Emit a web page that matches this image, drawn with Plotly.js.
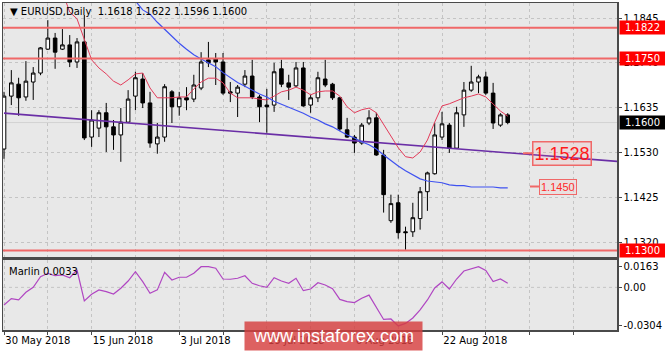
<!DOCTYPE html>
<html><head><meta charset="utf-8">
<script src="https://cdn.plot.ly/plotly-3.0.1.min.js"></script>
<style>html,body{margin:0;padding:0;background:#fff}#chart{width:665px;height:352px}</style>
</head><body><div id="chart"></div>
<script>
const dates = ['2018-05-30','2018-05-31','2018-06-01','2018-06-04','2018-06-05','2018-06-06','2018-06-07','2018-06-08','2018-06-11','2018-06-12',
'2018-06-13','2018-06-14','2018-06-15','2018-06-18','2018-06-19','2018-06-20','2018-06-21','2018-06-22','2018-06-25','2018-06-26',
'2018-06-27','2018-06-28','2018-06-29','2018-07-02','2018-07-03','2018-07-04','2018-07-05','2018-07-06','2018-07-09','2018-07-10',
'2018-07-11','2018-07-12','2018-07-13','2018-07-16','2018-07-17','2018-07-18','2018-07-19','2018-07-20','2018-07-23','2018-07-24',
'2018-07-25','2018-07-26','2018-07-27','2018-07-30','2018-07-31','2018-08-01','2018-08-02','2018-08-03','2018-08-06','2018-08-07',
'2018-08-08','2018-08-09','2018-08-10','2018-08-13','2018-08-14','2018-08-15','2018-08-16','2018-08-17','2018-08-20','2018-08-21',
'2018-08-22','2018-08-23','2018-08-24','2018-08-27','2018-08-28','2018-08-29','2018-08-30','2018-08-31','2018-09-03','2018-09-04'];

const openP = [1.1538,1.1662,1.1690,1.1660,1.1695,1.1716,1.1772,1.1798,1.1772,1.1782,
1.1742,1.1789,1.1566,1.1587,1.1623,1.1590,1.1571,1.1601,1.1662,1.1702,
1.1646,1.1550,1.1566,1.1672,1.1637,1.1658,1.1655,1.1681,1.1747,1.1749,
1.1742,1.1672,1.1669,1.1690,1.1709,1.1660,1.1641,1.1641,1.1726,1.1693,
1.1686,1.1728,1.1641,1.1658,1.1702,1.1690,1.1658,1.1583,1.1566,1.1552,
1.1599,1.1611,1.1524,1.1370,1.1412,1.1344,1.1344,1.1375,1.1438,1.1480,
1.1566,1.1594,1.1540,1.1618,1.1676,1.1695,1.1707,1.1669,1.1594,1.1618];
const highP = [1.1672,1.1723,1.1705,1.1744,1.1730,1.1777,1.1840,1.1810,1.1819,1.1805,
1.1798,1.1852,1.1629,1.1629,1.1646,1.1606,1.1634,1.1676,1.1719,1.1716,
1.1672,1.1599,1.1690,1.1676,1.1672,1.1683,1.1712,1.1765,1.1789,1.1763,
1.1763,1.1695,1.1688,1.1723,1.1747,1.1665,1.1679,1.1740,1.1747,1.1712,
1.1742,1.1742,1.1665,1.1719,1.1747,1.1693,1.1660,1.1611,1.1571,1.1599,
1.1629,1.1623,1.1536,1.1431,1.1431,1.1356,1.1412,1.1449,1.1485,1.1599,
1.1625,1.1599,1.1637,1.1695,1.1733,1.1712,1.1719,1.1693,1.1622,1.1622];
const lowP = [1.1515,1.1641,1.1616,1.1651,1.1653,1.1711,1.1770,1.1726,1.1770,1.1730,
1.1728,1.1559,1.1543,1.1566,1.1531,1.1536,1.1508,1.1599,1.1629,1.1634,
1.1541,1.1527,1.1555,1.1599,1.1616,1.1629,1.1648,1.1676,1.1730,1.1688,
1.1665,1.1648,1.1613,1.1683,1.1655,1.1601,1.1576,1.1625,1.1683,1.1653,
1.1683,1.1637,1.1623,1.1648,1.1683,1.1653,1.1580,1.1564,1.1529,1.1548,
1.1594,1.1522,1.1389,1.1365,1.1328,1.1302,1.1332,1.1349,1.1393,1.1478,
1.1559,1.1529,1.1538,1.1590,1.1672,1.1669,1.1665,1.1585,1.1590,1.1596];
const closeP = [1.1662,1.1693,1.1658,1.1697,1.1716,1.1775,1.1798,1.1765,1.1782,1.1742,
1.1789,1.1564,1.1606,1.1623,1.1590,1.1571,1.1601,1.1655,1.1705,1.1646,
1.1552,1.1566,1.1684,1.1637,1.1658,1.1653,1.1688,1.1742,1.1740,1.1742,
1.1669,1.1669,1.1683,1.1709,1.1660,1.1637,1.1637,1.1719,1.1690,1.1683,
1.1728,1.1639,1.1658,1.1705,1.1688,1.1658,1.1585,1.1566,1.1552,1.1594,
1.1611,1.1524,1.1431,1.1410,1.1342,1.1342,1.1377,1.1438,1.1482,1.1571,
1.1597,1.1540,1.1623,1.1676,1.1695,1.1707,1.1669,1.1599,1.1618,1.1600];

const redMA = [null,null,null,null,null,null,null,null,1.1906,1.1859,
1.1843,1.1793,1.1747,1.1728,1.1714,1.1697,1.1688,1.1700,1.1714,1.1716,
1.1681,1.1658,1.1658,1.1658,1.1660,1.1660,1.1679,1.1695,1.1704,1.1704,
1.1693,1.1669,1.1658,1.1658,1.1658,1.1655,1.1653,1.1662,1.1672,1.1676,
1.1683,1.1676,1.1665,1.1672,1.1674,1.1674,1.1662,1.1637,1.1623,1.1630,
1.1634,1.1623,1.1595,1.1566,1.1541,1.1520,1.1517,1.1531,1.1559,1.1601,
1.1639,1.1644,1.1651,1.1658,1.1662,1.1667,1.1660,1.1644,1.1627,1.1615];
const blueMA = [null,null,null,null,null,null,null,null,null,null,
null,null,null,null,null,null,null,1.1901,1.1885,1.1864,
1.1854,1.1835,1.1818,1.1803,1.1786,1.1772,1.1759,1.1749,1.1740,1.1731,
1.1717,1.1705,1.1694,1.1685,1.1676,1.1667,1.1660,1.1650,1.1643,1.1636,
1.1629,1.1622,1.1613,1.1606,1.1597,1.1590,1.1580,1.1571,1.1564,1.1555,
1.1548,1.1538,1.1524,1.1510,1.1498,1.1487,1.1477,1.1468,1.1463,1.1461,
1.1459,1.1454,1.1452,1.1452,1.1449,1.1449,1.1449,1.1449,1.1447,1.1447];
const marlin = [-0.0139,-0.0088,-0.0099,-0.0039,0.0001,0.0084,0.0111,0.0092,0.0098,0.0076,
0.0137,-0.0107,-0.0054,-0.0020,-0.0034,-0.0052,-0.0007,0.0050,0.0124,0.0045,
-0.0046,-0.0020,0.0119,0.0058,0.0080,0.0080,0.0111,0.0163,0.0163,0.0151,
0.0066,0.0064,0.0072,0.0092,0.0032,0.0013,0.0001,0.0076,0.0050,0.0032,
0.0072,-0.0026,-0.0013,0.0037,0.0019,-0.0010,-0.0095,-0.0112,-0.0120,-0.0086,
-0.0061,-0.0155,-0.0253,-0.0249,-0.0304,-0.0284,-0.0241,-0.0178,-0.0099,-0.0005,
0.0043,-0.0013,0.0066,0.0129,0.0145,0.0163,0.0133,0.0046,0.0066,0.0033];

const trendIdx = [0, 84];
const trendPrices = [1.1622, 1.1509];
const levels = [1.1822, 1.1750, 1.1300];
const notePrices = [1.1528, 1.1450];
const priceTicks = [1.1845, 1.1740, 1.1635, 1.1530, 1.1425, 1.1320];
const labelIdx = [0, 12, 24, 36, 48, 60];
const months = ['Jan','Feb','Mar','Apr','May','Jun','Jul','Aug','Sep','Oct','Nov','Dec'];

const xIdx = dates.map((d, i) => i);
const fmtDate = s => { const p = s.split('-'); return (+p[2]) + ' ' + months[+p[1]-1] + ' ' + p[0]; };
const gridIdx = Array.from({length: 14}, (_, k) => 6 * k);
const gridText = gridIdx.map(v => labelIdx.includes(v) ? fmtDate(dates[v]) : '');
const last = dates.length - 1;
const NB = '\u00a0';

const FONT = 'DejaVu Sans, Verdana, sans-serif';
const GRID = '#c4c4c4';
const AXL = '#4a4a4a';

const traces = [
  {type: 'scatter', mode: 'lines', x: trendIdx, y: trendPrices, xaxis: 'x', yaxis: 'y',
   line: {color: '#6a2ea6', width: 1.6}, hoverinfo: 'skip'},
  {type: 'candlestick', x: xIdx, open: openP, high: highP, low: lowP, close: closeP,
   xaxis: 'x', yaxis: 'y', whiskerwidth: 0,
   increasing: {line: {color: '#000', width: 1}, fillcolor: '#ffffff'},
   decreasing: {line: {color: '#000', width: 1}, fillcolor: '#000000'},
   hoverinfo: 'skip'},
  {type: 'scatter', mode: 'lines', x: xIdx, y: redMA, xaxis: 'x', yaxis: 'y',
   line: {color: '#e33b5a', width: 1}, connectgaps: false, hoverinfo: 'skip'},
  {type: 'scatter', mode: 'lines', x: xIdx, y: blueMA, xaxis: 'x', yaxis: 'y',
   line: {color: '#3f52f0', width: 1.2}, connectgaps: false, hoverinfo: 'skip'},
  {type: 'scatter', mode: 'lines', x: xIdx, y: marlin, xaxis: 'x2', yaxis: 'y2',
   line: {color: '#b046c2', width: 1.2}, hoverinfo: 'skip'}
];

const shapes = [];
shapes.push({type: 'line', xref: 'x domain', x0: 0, x1: 1, yref: 'y', y0: closeP[last], y1: closeP[last],
  line: {color: '#d2d2d2', width: 1}, layer: 'below'});
levels.forEach(v => shapes.push({type: 'line', xref: 'x domain', x0: 0, x1: 1, yref: 'y', y0: v, y1: v,
  line: {color: '#f06868', width: 2}, layer: 'above'}));
shapes.push({type: 'line', xref: 'x2 domain', x0: 0, x1: 1, yref: 'y2', y0: 0, y1: 0,
  line: {color: GRID, width: 1, dash: '3px,3px'}, layer: 'below'});

const annotations = [];
levels.forEach(v => annotations.push({xref: 'paper', x: 1, xanchor: 'left', xshift: 2, yref: 'y', y: v,
  yanchor: 'middle', showarrow: false, text: v.toFixed(4), bgcolor: '#ff0000', borderpad: 0,
  width: 45, height: 13, font: {family: FONT, size: 10, color: '#ffffff'}}));
annotations.push({xref: 'paper', x: 1, xanchor: 'left', xshift: 2, yref: 'y', y: closeP[last],
  yanchor: 'middle', showarrow: false, text: closeP[last].toFixed(4), bgcolor: '#000000', borderpad: 0,
  width: 45, height: 13, font: {family: FONT, size: 10, color: '#ffffff'}});
annotations.push({xref: 'x', x: 71.1, yref: 'y', y: notePrices[0], showarrow: true, arrowhead: 0,
  arrowwidth: 2, arrowcolor: '#f06868', ax: 9, ay: 0, xanchor: 'left', yanchor: 'middle', standoff: 0,
  text: notePrices[0].toFixed(4), bordercolor: '#f06868', borderwidth: 1.5, borderpad: 1,
  bgcolor: 'rgba(255,140,140,0.12)', font: {family: 'Liberation Sans, Arial, sans-serif', size: 18, color: '#ff1a1a'}});
annotations.push({xref: 'x', x: 72.05, yref: 'y', y: notePrices[1], showarrow: true, arrowhead: 0,
  arrowwidth: 2, arrowcolor: '#f06868', ax: 9, ay: 0, xanchor: 'left', yanchor: 'middle', standoff: 0,
  text: notePrices[1].toFixed(4), bordercolor: '#f06868', borderwidth: 1, borderpad: 1,
  bgcolor: 'rgba(255,140,140,0.08)', font: {family: 'Liberation Sans, Arial, sans-serif', size: 11, color: '#ff2a2a'}});
annotations.push({xref: 'paper', x: 0.008, xanchor: 'left', yref: 'paper', y: 0.9725, yanchor: 'middle',
  showarrow: false, text: '\u25BC' + NB + 'EURUSD,Daily' + NB + NB + [openP[last], highP[last], lowP[last], closeP[last]].map(v => v.toFixed(4)).join(NB),
  font: {family: FONT, size: 10, color: '#000'}});
annotations.push({xref: 'paper', x: 0.0065, xanchor: 'left', yref: 'paper', y: 0.1774, yanchor: 'middle',
  showarrow: false, text: 'Marlin' + NB + marlin[last].toFixed(4), font: {family: FONT, size: 10, color: '#000'}});
annotations.push({xref: 'paper', x: 0.5383, xanchor: 'center', yref: 'paper', y: -0.0184, yanchor: 'middle',
  showarrow: false, text: 'www.instaforex.com', bgcolor: 'rgba(214,62,62,0.82)', width: 177, height: 28, borderpad: 0,
  font: {family: 'Liberation Sans, Arial, sans-serif', size: 18, color: '#ffffff'}});

const mMax = Math.max(...marlin), mMin = Math.min(...marlin);

const layout = {
  width: 665, height: 352,
  margin: {l: 3, r: 48, t: 3, b: 22, pad: 0},
  paper_bgcolor: '#ffffff', plot_bgcolor: '#e8e8e8',
  showlegend: false, hovermode: false, dragmode: false,
  font: {family: FONT, size: 10, color: '#000'},
  xaxis: {domain: [0, 1], anchor: 'y', range: [-0.14, 83.97], tickmode: 'array', tickvals: gridIdx,
    showticklabels: false, ticks: '', showgrid: true, gridcolor: GRID, griddash: '3px,3px', gridwidth: 1,
    showline: true, mirror: true, linecolor: AXL, linewidth: 1.5, zeroline: false,
    rangeslider: {visible: false}, fixedrange: true},
  yaxis: {domain: [0.2232, 1], anchor: 'x', side: 'right', range: [1.12849, 1.18802],
    tickmode: 'array', tickvals: priceTicks, ticktext: priceTicks.map(v => v.toFixed(4)),
    ticks: 'outside', ticklen: 3, tickcolor: AXL, showgrid: true, gridcolor: GRID, griddash: '3px,3px',
    showline: true, mirror: true, linecolor: AXL, linewidth: 1.5, zeroline: false, fixedrange: true,
    tickfont: {family: FONT, size: 10, color: '#000'}},
  xaxis2: {domain: [0, 1], anchor: 'y2', matches: 'x', range: [-0.14, 83.97], tickmode: 'array',
    tickvals: gridIdx, ticktext: gridText, ticklabelposition: 'outside right',
    ticks: 'outside', ticklen: 3, tickcolor: AXL, showgrid: true, gridcolor: GRID, griddash: '3px,3px',
    showline: true, mirror: true, linecolor: AXL, linewidth: 1.5, zeroline: false,
    rangeslider: {visible: false}, fixedrange: true, tickfont: {family: FONT, size: 10, color: '#000'}},
  yaxis2: {domain: [0, 0.2141], anchor: 'x2', side: 'right', range: [-0.0336, 0.0216],
    tickmode: 'array', tickvals: [mMax, 0, mMin], ticktext: [mMax.toFixed(4), '0.00', mMin.toFixed(4)],
    ticks: 'outside', ticklen: 3, tickcolor: AXL, showgrid: false,
    showline: true, mirror: true, linecolor: AXL, linewidth: 1.5, zeroline: false, fixedrange: true,
    tickfont: {family: FONT, size: 10, color: '#000'}},
  shapes: shapes,
  annotations: annotations
};

Plotly.newPlot('chart', traces, layout, {staticPlot: true, displayModeBar: false});
</script>
</body></html>
